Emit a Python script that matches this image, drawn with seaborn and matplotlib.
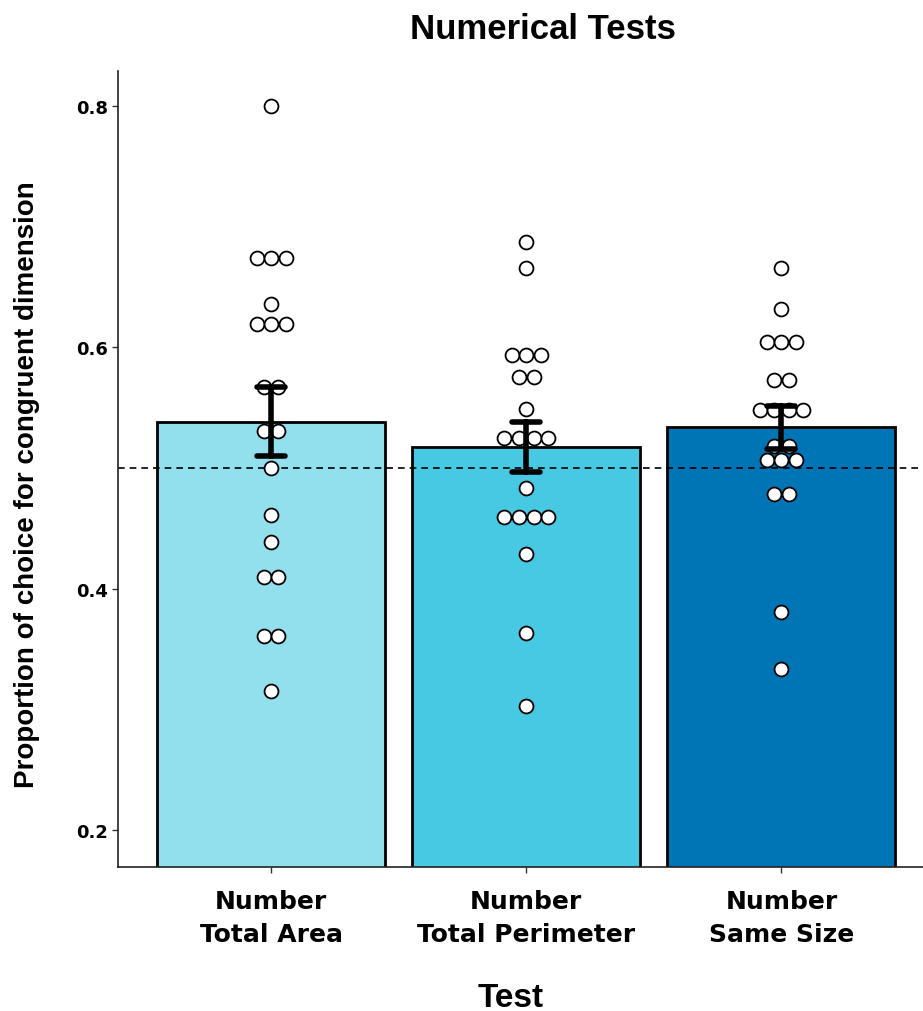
import numpy as np
import pandas as pd
import matplotlib
matplotlib.use('Agg')
import matplotlib.pyplot as plt
import seaborn as sns

# values (one entry per subject)
tests = ['Number\nTotal Area', 'Number\nTotal Perimeter', 'Number\nSame Size']
total_area = [0.800, 0.674, 0.674, 0.674, 0.636, 0.619, 0.619, 0.619, 0.567, 0.567,
              0.531, 0.531, 0.500, 0.461, 0.439, 0.410, 0.410, 0.361, 0.361, 0.315]
total_perimeter = [0.687, 0.666, 0.594, 0.594, 0.594, 0.575, 0.575, 0.549, 0.525, 0.525,
                   0.525, 0.525, 0.483, 0.459, 0.459, 0.459, 0.459, 0.429, 0.363, 0.303]
same_size = [0.666, 0.632, 0.604, 0.604, 0.604, 0.573, 0.573, 0.548, 0.548, 0.548,
             0.548, 0.518, 0.518, 0.507, 0.507, 0.507, 0.478, 0.478, 0.381, 0.333]
bar_colors = ['#92DFEE', '#48C9E3', '#0075B6']
chance = 0.5
yticks = [0.2, 0.4, 0.6, 0.8]

groups = [total_area, total_perimeter, same_size]
df = pd.DataFrame({
    'Test': np.repeat(tests, [len(g) for g in groups]),
    'Proportion': np.concatenate(groups),
})

# centred dot stacks like ggplot's geom_dotplot: tied values sit side by side
dot_step = 0.057
df['pos'] = df['Test'].map({t: i for i, t in enumerate(tests)}).astype(float)
rank = df.groupby(['Test', 'Proportion']).cumcount()
count = df.groupby(['Test', 'Proportion'])['Proportion'].transform('size')
df['pos'] = df['pos'] + (rank - (count - 1) / 2) * dot_step

sns.set_style('ticks')
plt.rcParams['text.color'] = 'black'
plt.rcParams['axes.labelcolor'] = 'black'
plt.rcParams['xtick.color'] = 'black'
plt.rcParams['ytick.color'] = 'black'

fig = plt.figure(figsize=(9.23, 10.12), dpi=100)
ax = fig.add_axes([0.1278, 0.1423, 0.8847, 0.7866])

sns.barplot(data=df, x='Test', y='Proportion', hue='Test', order=tests, hue_order=tests,
            palette=bar_colors, saturation=1, errorbar='se', capsize=0.11, width=0.894,
            edgecolor='black', linewidth=2, legend=False,
            err_kws={'color': 'black', 'linewidth': 4, 'zorder': 4}, ax=ax)
ax.axhline(chance, color='black', ls=(0, (4, 3)), lw=1.2, zorder=2)
sns.scatterplot(data=df, x='pos', y='Proportion', color='white', edgecolor='black',
                linewidth=1.3, s=100, zorder=3, legend=False, ax=ax)

ax.set_xlim(-0.6, 2.6)
ax.set_ylim(0.1693, 0.829)
ax.set_yticks(yticks)
ax.set_yticklabels([f'{v:.1f}' for v in yticks], fontsize=13, fontweight='bold', family='DejaVu Sans')
ax.set_xticks(range(len(tests)))
ax.set_xticklabels(tests, fontsize=18, fontweight='bold', family='DejaVu Sans', linespacing=1.45)
ax.tick_params(axis='both', length=4, width=1, color='#333333', direction='out')
ax.tick_params(axis='x', pad=12)
ax.tick_params(axis='y', pad=3)

sns.despine(ax=ax)
for side in ['left', 'bottom']:
    ax.spines[side].set_color('#222222')
    ax.spines[side].set_linewidth(1.2)

ax.set_xlabel('Test', fontsize=24, fontweight='bold', family='Liberation Sans')
ax.xaxis.set_label_coords(0.481, -0.1746)
ax.xaxis.label.set_va('baseline')
ax.set_ylabel('Proportion of choice for congruent dimension', fontsize=20,
              fontweight='bold', family='Liberation Sans')
ax.yaxis.set_label_coords(-0.1115, 0.482)
ax.yaxis.label.set_va('center')

fig.suptitle('Numerical Tests', x=543 / 923, y=1 - 39 / 1012, va='baseline',
             fontsize=25, fontweight='bold', family='Liberation Sans')

fig.savefig('out.png', dpi=100)
